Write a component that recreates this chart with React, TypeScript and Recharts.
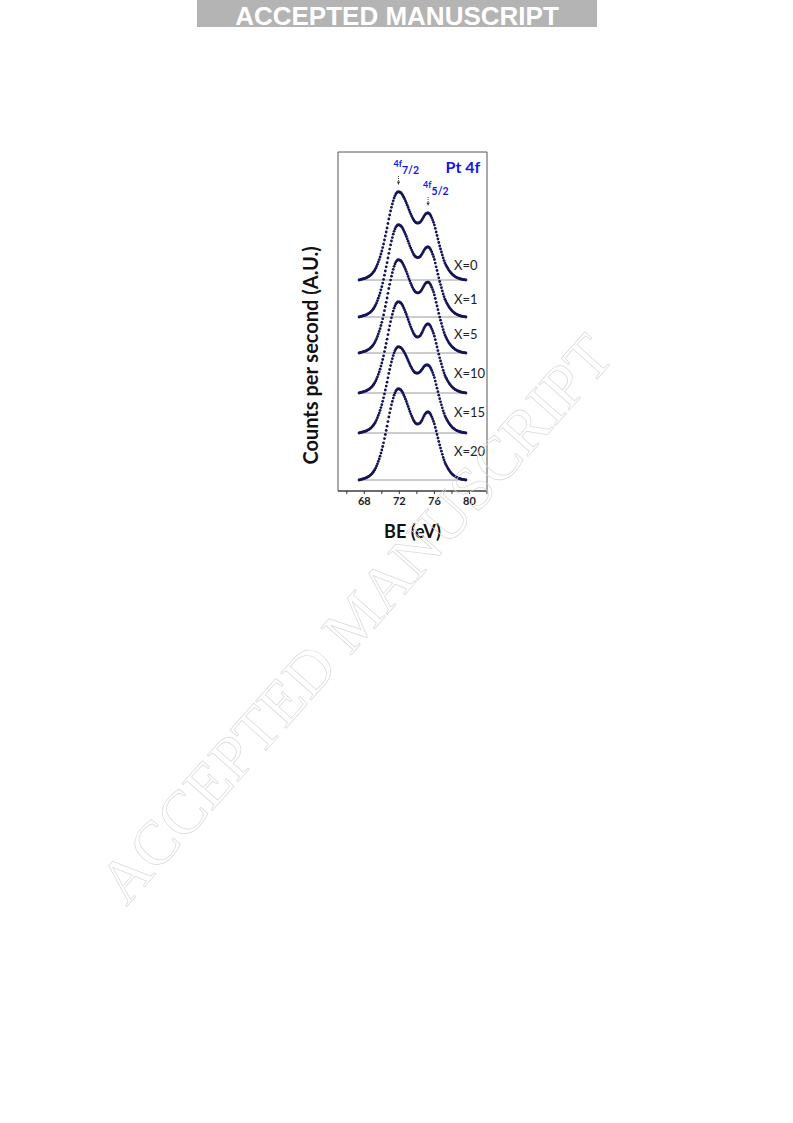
import React from 'react';
import { ScatterChart, Scatter, XAxis, YAxis, ReferenceLine, ReferenceArea, ReferenceDot } from 'recharts';

// Binding energy grid (eV)
const energies = [
  67.4, 67.5, 67.6, 67.7, 67.8, 67.9, 68.0, 68.1, 68.2, 68.3,
  68.4, 68.5, 68.6, 68.7, 68.8, 68.9, 69.0, 69.1, 69.2, 69.3,
  69.4, 69.5, 69.6, 69.7, 69.8, 69.9, 70.0, 70.1, 70.2, 70.3,
  70.4, 70.5, 70.6, 70.7, 70.8, 70.9, 71.0, 71.1, 71.2, 71.3,
  71.4, 71.5, 71.6, 71.7, 71.8, 71.9, 72.0, 72.1, 72.2, 72.3,
  72.4, 72.5, 72.6, 72.7, 72.8, 72.9, 73.0, 73.1, 73.2, 73.3,
  73.4, 73.5, 73.6, 73.7, 73.8, 73.9, 74.0, 74.1, 74.2, 74.3,
  74.4, 74.5, 74.6, 74.7, 74.8, 74.9, 75.0, 75.1, 75.2, 75.3,
  75.4, 75.5, 75.6, 75.7, 75.8, 75.9, 76.0, 76.1, 76.2, 76.3,
  76.4, 76.5, 76.6, 76.7, 76.8, 76.9, 77.0, 77.1, 77.2, 77.3,
  77.4, 77.5, 77.6, 77.7, 77.8, 77.9, 78.0, 78.1, 78.2, 78.3,
  78.4, 78.5, 78.6, 78.7, 78.8, 78.9, 79.0, 79.1, 79.2, 79.3,
  79.4, 79.5, 79.6,
];

const samples = ['X=0', 'X=1', 'X=5', 'X=10', 'X=15', 'X=20'];
// vertical offsets of each stacked spectrum (A.U.)
const baselines = [211, 174, 138, 98, 58, 11];

// intensities above each baseline (A.U.)
const intensX0 = [
  0, 0.2, 0.5, 0.7, 1, 1.2, 1.5, 1.7, 2, 2.5,
  3, 3.5, 4, 4.7, 5.5, 6.4, 7.5, 8.7, 10, 11.7,
  13.5, 15.7, 18, 20.4, 23, 26, 29, 32.4, 36, 40,
  44, 48, 52, 56.5, 61, 65, 69, 72.7, 76, 79.2,
  82, 84.2, 86, 87.2, 88, 88.2, 88, 87.6, 87, 85.9,
  84.5, 82.8, 81, 79, 77, 74.8, 72.5, 70.2, 68, 65.9,
  64, 62.2, 60.5, 59.1, 58, 57.4, 57, 56.9, 57, 57.4,
  58, 59.2, 60.5, 62, 63.5, 64.9, 66, 66.7, 67, 67,
  66.5, 65.5, 64, 62.2, 60, 57.7, 55, 51.6, 48, 44.5,
  41, 37.5, 34, 31, 28, 25, 22, 19.4, 17, 15.2,
  13.5, 12, 10.5, 9.2, 8, 7, 6, 5.2, 4.5, 3.8,
  3.2, 2.7, 2.3, 1.9, 1.6, 1.3, 1, 0.8, 0.6, 0.4,
  0.3, 0.1, 0,
];
const intensX1 = [
  0, 0.2, 0.5, 0.7, 1, 1.3, 1.6, 1.8, 2.1, 2.6,
  3.1, 3.7, 4.2, 4.9, 5.7, 6.7, 7.8, 9.1, 10.5, 12.2,
  14.1, 16.4, 18.8, 21.3, 24, 27.2, 30.3, 33.9, 37.6, 41.8,
  46, 50.2, 54.3, 59, 63.7, 67.9, 72.1, 76, 79.4, 82.8,
  85.7, 88, 89.9, 91.1, 92, 92.2, 92, 91.5, 90.9, 89.8,
  88.3, 86.5, 84.6, 82.6, 80.5, 78.2, 75.8, 73.4, 71.1, 68.9,
  66.9, 65, 63.2, 61.8, 60.6, 60, 59.6, 59.5, 59.6, 60,
  60.6, 61.9, 63.2, 64.8, 66.4, 67.8, 69, 69.7, 70, 70,
  69.5, 68.4, 66.9, 65, 62.7, 60.3, 57.5, 53.9, 50.2, 46.5,
  42.8, 39.2, 35.5, 32.4, 29.3, 26.1, 23, 20.3, 17.8, 15.9,
  14.1, 12.5, 11, 9.6, 8.4, 7.3, 6.3, 5.4, 4.7, 4,
  3.3, 2.8, 2.4, 2, 1.7, 1.4, 1, 0.8, 0.6, 0.4,
  0.3, 0.1, 0,
];
const intensX5 = [
  0, 0.2, 0.5, 0.7, 1.1, 1.3, 1.6, 1.8, 2.1, 2.6,
  3.2, 3.7, 4.2, 5, 5.8, 6.8, 7.9, 9.2, 10.6, 12.4,
  14.3, 16.6, 19, 21.6, 24.3, 27.5, 30.7, 34.2, 38.1, 42.3,
  46.5, 50.7, 55, 59.7, 64.5, 68.7, 72.9, 76.8, 80.3, 83.7,
  86.7, 89, 90.9, 92.2, 93, 93.2, 93, 92.6, 92, 90.8,
  89.3, 87.5, 85.6, 83.5, 81.4, 79.1, 76.6, 74.2, 71.9, 69.7,
  67.6, 65.7, 63.9, 62.5, 61.3, 60.7, 60.2, 60.1, 60.2, 60.7,
  61.3, 62.6, 63.9, 65.5, 67.1, 68.6, 69.8, 70.5, 70.8, 70.8,
  70.3, 69.2, 67.6, 65.7, 63.4, 61, 58.1, 54.5, 50.7, 47,
  43.3, 39.6, 35.9, 32.8, 29.6, 26.4, 23.3, 20.5, 18, 16.1,
  14.3, 12.7, 11.1, 9.7, 8.5, 7.4, 6.3, 5.5, 4.8, 4,
  3.4, 2.9, 2.4, 2, 1.7, 1.4, 1.1, 0.8, 0.6, 0.4,
  0.3, 0.1, 0,
];
const intensX10 = [
  0, 0.2, 0.5, 0.7, 1, 1.2, 1.6, 1.8, 2.1, 2.6,
  3.1, 3.6, 4.1, 4.9, 5.7, 6.6, 7.8, 9, 10.3, 12.1,
  14, 16.2, 18.6, 21.1, 23.8, 26.9, 30, 33.5, 37.2, 41.4,
  45.5, 49.6, 53.8, 58.4, 63, 67.2, 71.3, 75.2, 78.6, 81.9,
  84.8, 87.1, 89, 90.2, 91, 91.2, 91, 90.5, 89.8, 88.6,
  87, 85, 83, 80.8, 78.5, 76, 73.5, 71, 68.5, 66.2,
  64, 62, 60, 58.5, 57.2, 56.4, 56, 55.9, 56.2, 56.7,
  57.5, 59, 60.5, 62.5, 64.5, 66.2, 67.5, 68.5, 69, 69,
  68.7, 67.6, 66, 64.2, 62, 59.6, 56.8, 53.3, 49.6, 46,
  42.4, 38.8, 35.2, 32.1, 29, 25.9, 22.7, 20.1, 17.6, 15.7,
  14, 12.4, 10.9, 9.5, 8.3, 7.2, 6.2, 5.4, 4.6, 3.9,
  3.3, 2.8, 2.4, 2, 1.7, 1.3, 1, 0.8, 0.6, 0.4,
  0.3, 0.1, 0,
];
const intensX15 = [
  0, 0.2, 0.5, 0.7, 1, 1.2, 1.5, 1.7, 2, 2.4,
  2.9, 3.4, 3.9, 4.6, 5.4, 6.3, 7.3, 8.5, 9.8, 11.4,
  13.2, 15.3, 17.6, 19.9, 22.5, 25.4, 28.3, 31.7, 35.2, 39.1,
  43, 46.9, 50.8, 55.2, 59.6, 63.5, 67.4, 71, 74.3, 77.4,
  80.1, 82.3, 84, 85.2, 86, 86.2, 86, 85.7, 85.2, 84.2,
  83, 81.6, 80, 78.3, 76.5, 74.5, 72.5, 70.5, 68.5, 66.7,
  65, 63.4, 62, 61, 60.3, 60, 59.8, 59.8, 60.2, 60.7,
  61.5, 62.6, 63.8, 65.1, 66.3, 67.2, 67.8, 68, 68, 67.8,
  67.2, 66, 64.5, 62.6, 60.4, 58, 55.4, 51.9, 48.4, 44.8,
  41.3, 37.8, 34.3, 31.2, 28.2, 25.2, 22.2, 19.7, 17.2, 15.4,
  13.6, 12.1, 10.6, 9.3, 8.1, 7.1, 6, 5.2, 4.5, 3.8,
  3.2, 2.7, 2.3, 1.9, 1.6, 1.3, 1, 0.8, 0.6, 0.4,
  0.3, 0.1, 0,
];
const intensX20 = [
  0, 0.2, 0.5, 0.7, 1, 1.2, 1.6, 1.8, 2.1, 2.6,
  3.1, 3.6, 4.1, 4.9, 5.7, 6.6, 7.8, 9, 10.3, 12.1,
  14, 16.2, 18.6, 21.1, 23.8, 26.9, 30, 33.5, 37.2, 41.4,
  45.5, 49.6, 53.8, 58.4, 63, 67.2, 71.3, 75.2, 78.6, 81.9,
  84.8, 87.1, 89, 90.2, 91, 91.2, 91, 90.5, 89.8, 88.6,
  87, 85, 83, 80.8, 78.5, 76, 73.5, 71, 68.5, 66.2,
  64, 62, 60, 58.5, 57.2, 56.4, 56, 55.9, 56.2, 56.6,
  57.3, 58.6, 60, 61.9, 63.8, 65.4, 66.6, 67.5, 68, 68,
  67.6, 66.5, 65, 63.2, 61, 58.6, 56, 52.5, 49, 45.5,
  42, 38.5, 35, 31.9, 28.8, 25.7, 22.6, 20, 17.5, 15.6,
  13.9, 12.3, 10.8, 9.4, 8.2, 7.1, 6.1, 5.3, 4.6, 3.9,
  3.3, 2.8, 2.4, 2, 1.7, 1.3, 1, 0.8, 0.6, 0.4,
  0.3, 0.1, 0,
];
const intensities = [intensX0, intensX1, intensX5, intensX10, intensX15, intensX20];

const xTicks = [66, 68, 70, 72, 74, 76, 78, 80, 82];
const xTickLabels = [68, 72, 76, 80];

// peak positions of the doublet (eV)
const peakLabels = [
  { name: '4f', sub: '7/2', be: 71.9 },
  { name: '4f', sub: '5/2', be: 75.28 },
];

// ---------- layout / style ----------
const FONT = 'Lato, "Open Sans", sans-serif';
const NAVY = '#141456';
const BLUE = '#1515e6';
const X_DOMAIN: [number, number] = [65, 82];
const Y_DOMAIN: [number, number] = [0, 339];
const labelLift = [15, 18, 19, 20, 21, 29];
const peakTipLift = [95, 74];

const seriesData = intensities.map((arr, k) =>
  energies.map((e, i) => ({ x: e, y: baselines[k] + arr[i] }))
);

const DotShape = (props: any) => {
  const { cx, cy } = props;
  if (cx == null || cy == null) return null;
  return <circle cx={cx} cy={cy} r={1.4} fill={NAVY} />;
};

const sampleLabel = (text: string) => (props: any) => {
  const { viewBox } = props;
  return (
    <text x={viewBox.x} y={viewBox.y} dy="0.35em" fontFamily={FONT} fontSize={13} fill="#222" textAnchor="start">
      {text}
    </text>
  );
};

const peakLabel = (name: string, sub: string) => (props: any) => {
  const { viewBox } = props;
  const x = viewBox.x;
  const y = viewBox.y;
  return (
    <g>
      <text x={x - 5} y={y - 18} fontFamily={FONT} fontWeight={700} fill={BLUE}>
        <tspan fontSize={9}>{name}</tspan>
        <tspan fontSize={10.5} dy={7}>{sub}</tspan>
      </text>
      <line x1={x} y1={y - 9} x2={x} y2={y - 3} stroke="#333" strokeWidth={0.9} strokeDasharray="1 1" />
      <path d={`M${x - 1.6},${y - 3.5} L${x + 1.6},${y - 3.5} L${x},${y} Z`} fill="#333" />
    </g>
  );
};

const titleLabel = (props: any) => {
  const { viewBox } = props;
  return (
    <text x={viewBox.x} y={viewBox.y} dy="0.35em" textAnchor="middle" fontFamily={FONT} fontWeight={700} fontSize={16} fill={BLUE}>
      Pt 4f
    </text>
  );
};

const xAxisTitle = (props: any) => {
  const { viewBox } = props;
  return (
    <text x={viewBox.x + viewBox.width / 2} y={viewBox.y + 47} textAnchor="middle" fontFamily={FONT} fontWeight={700} fontSize={18} fill="#111">
      BE (eV)
    </text>
  );
};

const yAxisTitle = (props: any) => {
  const { viewBox } = props;
  const cx = viewBox.x + 3;
  const cy = viewBox.y + viewBox.height * 0.6;
  return (
    <text x={cx} y={cy} dy="0.35em" textAnchor="middle" transform={`rotate(-90 ${cx} ${cy})`} fontFamily={FONT} fontWeight={700} fontSize={20} fill="#111">
      Counts per second (A.U.)
    </text>
  );
};

export default function App() {
  return (
    <div style={{ position: 'absolute', left: 0, top: 0, width: 793, height: 1123, background: '#fff', overflow: 'hidden' }}>
      <svg width={793} height={40} style={{ position: 'absolute', left: 0, top: 0 }}>
        <rect x={197} y={0} width={400} height={27} fill="#b4b4b4" />
        <text x={397} y={24.5} textAnchor="middle" fill="#fff" fontFamily='"Liberation Sans", Arial, sans-serif' fontWeight={700} fontSize={26}>
          ACCEPTED MANUSCRIPT
        </text>
      </svg>
      <div style={{ position: 'absolute', left: 0, top: 0 }}>
        <ScatterChart width={793} height={600} margin={{ top: 152, right: 306, bottom: 59, left: 308 }}>
          <XAxis
            type="number"
            dataKey="x"
            domain={X_DOMAIN}
            ticks={xTicks}
            allowDataOverflow
            height={50}
            tickSize={3}
            tickMargin={3}
            interval={0}
            tickFormatter={(v: number) => (xTickLabels.includes(v) ? String(v) : '')}
            tick={{ fontFamily: FONT, fontWeight: 700, fontSize: 11, fill: '#222' }}
            axisLine={{ stroke: '#333' }}
            tickLine={{ stroke: '#333' }}
            label={xAxisTitle}
          />
          <YAxis
            type="number"
            dataKey="y"
            domain={Y_DOMAIN}
            allowDataOverflow
            width={30}
            tick={false}
            tickLine={false}
            axisLine={false}
            label={yAxisTitle}
          />
          <ReferenceArea x1={X_DOMAIN[0]} x2={X_DOMAIN[1]} y1={Y_DOMAIN[0]} y2={Y_DOMAIN[1]} fill="none" stroke="#555" strokeWidth={1} fillOpacity={0} />
          {baselines.map((b, k) => (
            <ReferenceLine
              key={`bl-${k}`}
              segment={[{ x: energies[0] - 0.1, y: b }, { x: energies[energies.length - 1] + 0.1, y: b }]}
              stroke="#9a9a9a"
              strokeWidth={1}
            />
          ))}
          {seriesData.map((d, k) => (
            <Scatter key={samples[k]} name={samples[k]} data={d} shape={DotShape} isAnimationActive={false} />
          ))}
          {samples.map((s, k) => (
            <ReferenceDot key={`lab-${k}`} x={78.23} y={baselines[k] + labelLift[k]} r={0} fill="none" stroke="none" label={sampleLabel(s)} />
          ))}
          {peakLabels.map((p, k) => (
            <ReferenceDot key={`pk-${k}`} x={p.be} y={baselines[0] + peakTipLift[k]} r={0} fill="none" stroke="none" label={peakLabel(p.name, p.sub)} />
          ))}
          <ReferenceDot x={79.25} y={324} r={0} fill="none" stroke="none" label={titleLabel} />
        </ScatterChart>
      </div>
      <svg width={793} height={1123} style={{ position: 'absolute', left: 0, top: 0, pointerEvents: 'none' }}>
        <text
          x={355}
          y={618}
          dy="0.35em"
          textAnchor="middle"
          transform="rotate(-48.3 355 618)"
          fill="none"
          stroke="#d8d8d8"
          strokeWidth={0.7}
          fontFamily='"Liberation Serif", "Times New Roman", serif'
          fontSize={62}
        >
          ACCEPTED MANUSCRIPT
        </text>
      </svg>
    </div>
  );
}
